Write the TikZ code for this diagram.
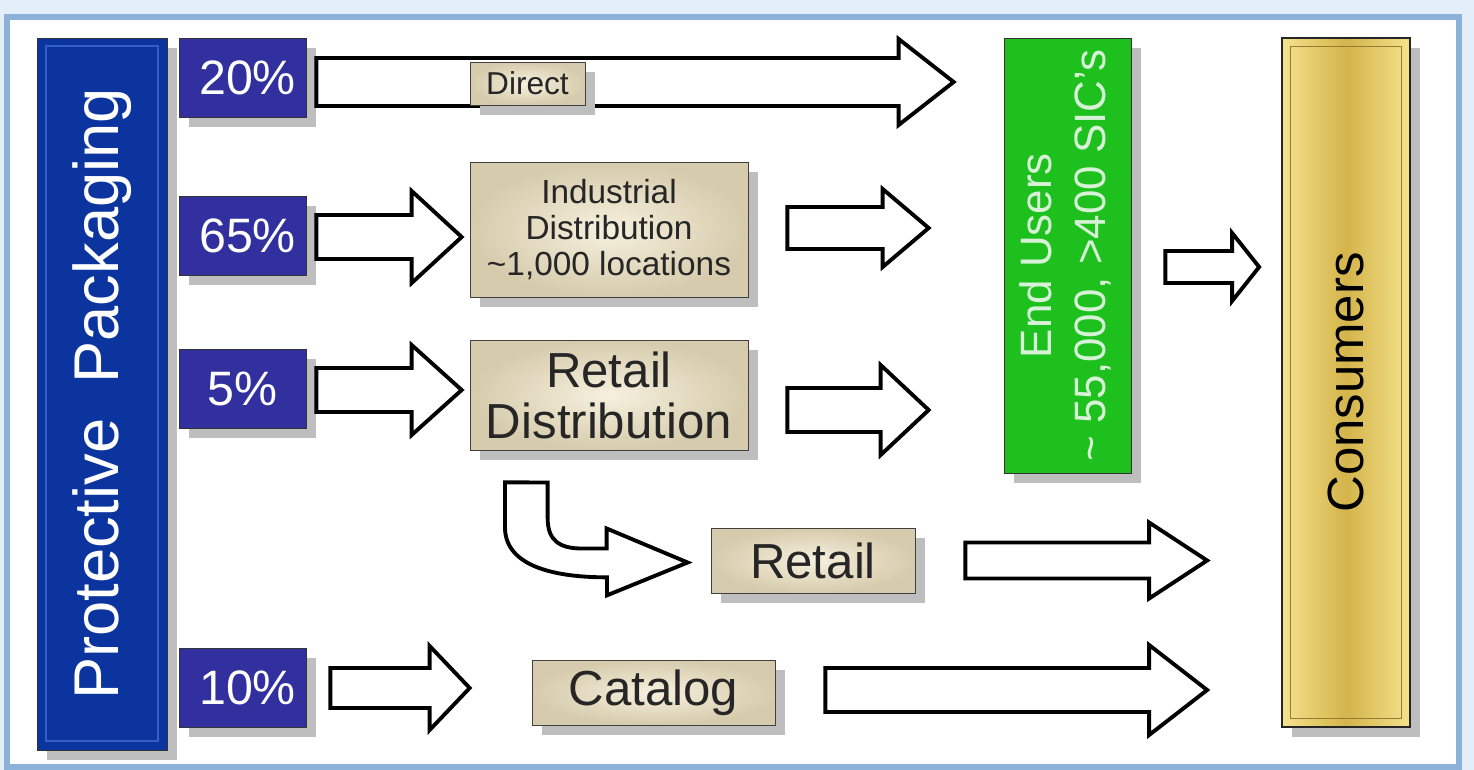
\documentclass[tikz,border=0pt]{standalone}
\usepackage{xcolor}
\usepackage{fontspec}
\setmainfont{Liberation Sans}
\usepackage{tikz}
\usetikzlibrary{
  arrows,
  positioning,
  calc,
  shadows
}

\definecolor{framebg}{RGB}{228,238,248}
\definecolor{frameblue}{RGB}{140,178,218}
\definecolor{packblue}{RGB}{12,52,158}
\definecolor{bevelblue}{RGB}{50,95,195}
\definecolor{pctblue}{RGB}{50,48,158}
\definecolor{usergreen}{RGB}{30,192,30}
\definecolor{usertext}{RGB}{215,242,215}
\definecolor{beigeL}{RGB}{246,240,222}
\definecolor{beigeD}{RGB}{214,203,172}
\definecolor{goldL}{RGB}{244,226,140}
\definecolor{goldD}{RGB}{212,180,75}
\definecolor{shadowgray}{RGB}{190,190,190}

\tikzset{
  boxshadow/.style={drop shadow={shadow xshift=5.5pt, shadow yshift=-5.5pt, fill=shadowgray, opacity=1}},
  packbox/.style={draw=black!80, fill=packblue, text=white, inner sep=0pt,
    minimum width=2.6cm, minimum height=14.24cm, font=\fontsize{36}{40}\selectfont, boxshadow},
  pctbox/.style={draw=black!80, fill=pctblue, text=white, inner sep=0pt,
    minimum width=2.54cm, minimum height=1.58cm, font=\fontsize{27.5}{30}\selectfont, boxshadow},
  tanbox/.style={draw=black!75, inner color=beigeL, outer color=beigeD, text=black!85,
    inner sep=0pt, align=center, boxshadow},
  fatarrow/.style={draw=black, line width=2.2pt, fill=white, line join=miter}
}

% from, to, half shaft, half head, head length
\newcommand{\blockarrow}[5]{%
  \draw[fatarrow] ($(#1)+(0,-#3)$) -- ($(#2)+(-#5,-#3)$) -- ($(#2)+(-#5,-#4)$) -- (#2)
    -- ($(#2)+(-#5,#4)$) -- ($(#2)+(-#5,#3)$) -- ($(#1)+(0,#3)$) -- cycle;}

\begin{document}
\begin{tikzpicture}[x=0.02cm,y=-0.02cm]
    \useasboundingbox (0,0) rectangle (1474,770);
    \fill[framebg] (0,0) rectangle (1474,770);
    \draw[frameblue, line width=0.12cm, fill=white] (7,17) rectangle (1459,767);

    % left column
    \node[packbox] (pack) at (102,394) {\rotatebox{90}{Protective\ \ Packaging}};
    \draw[bevelblue, line width=0.8pt] (46,46) rectangle (158,741);
    \node[pctbox] (p20) at (242.5,77.5) {\hspace*{0.2cm}20\%};
    \node[pctbox] (p65) at (242.5,236) {\hspace*{0.2cm}65\%};
    \node[pctbox] (p5) at (242.5,389) {5\%};
    \node[pctbox] (p10) at (242.5,687.5) {\hspace*{0.2cm}10\%};

    % channels
    \node[tanbox, minimum width=5.56cm, minimum height=2.7cm, font=\fontsize{19}{20.5}\selectfont]
        (indus) at (609,229.5) {Industrial\\Distribution\\\textasciitilde1,000 locations};
    \node[tanbox, minimum width=5.56cm, minimum height=2.2cm, font=\fontsize{28}{29}\selectfont]
        (rdist) at (609,395) {Retail\\Distribution};
    \node[tanbox, minimum width=4.08cm, minimum height=1.3cm, font=\fontsize{28}{30}\selectfont]
        (retail) at (813,560.5) {Retail};
    \node[tanbox, minimum width=4.86cm, minimum height=1.3cm, font=\fontsize{28}{30}\selectfont]
        (catalog) at (653.5,692.5) {Catalog};

    % end users and consumers
    \node[draw=black!80, fill=usergreen, text=usertext, inner sep=0pt, minimum width=2.54cm,
        minimum height=8.7cm, font=\fontsize{25}{31}\selectfont, boxshadow] (endu) at (1067.5,255.5)
        {\rotatebox{90}{\begin{tabular}{@{}c@{}}End Users\\\textasciitilde{} 55,000, >400 SIC's\end{tabular}}};
    \node[draw=black!85, line width=1pt, left color=goldL, right color=goldL, middle color=goldD,
        inner sep=0pt, minimum width=2.56cm, minimum height=13.78cm,
        font=\fontsize{29}{34}\selectfont, boxshadow] (cons) at (1346,382.5) {\rotatebox{90}{Consumers}};
    \draw[goldD!70!black, line width=0.6pt] ($(cons.south west)+(9,-9)$) rectangle ($(cons.north east)+(-9,9)$);

    % arrows
    \coordinate (d0) at ($(p20.east)+(10,4.5)$);
    \coordinate (d1) at ($(endu.west |- d0)+(-50,0)$);
    \blockarrow{d0}{d1}{24}{43}{55}
    \coordinate (i0) at ($(p65.east)+(10,1)$);
    \coordinate (i1) at ($(indus.west |- i0)+(-8,0)$);
    \blockarrow{i0}{i1}{22}{46}{50}
    \coordinate (i2) at ($(indus.east)+(39,-1.5)$);
    \coordinate (i3) at ($(endu.west |- i2)+(-75,0)$);
    \blockarrow{i2}{i3}{21}{39}{46}
    \coordinate (r0) at ($(p5.east)+(10,1)$);
    \coordinate (r1) at ($(rdist.west |- r0)+(-8,0)$);
    \blockarrow{r0}{r1}{22}{45}{50}
    \coordinate (r2) at ($(rdist.east)+(39,15)$);
    \coordinate (r3) at ($(endu.west |- r2)+(-75,0)$);
    \blockarrow{r2}{r3}{22}{45}{48}
    \coordinate (e0) at ($(endu.east)+(34,11.5)$);
    \coordinate (e1) at ($(cons.west |- e0)+(-22,0)$);
    \blockarrow{e0}{e1}{16}{34}{27}
    \coordinate (t0) at ($(retail.east)+(50,0)$);
    \coordinate (t1) at ($(cons.west |- t0)+(-74,0)$);
    \blockarrow{t0}{t1}{18}{38}{58}
    \coordinate (c0) at ($(catalog.east)+(50,-2.5)$);
    \coordinate (c1) at ($(cons.west |- c0)+(-74,0)$);
    \blockarrow{c0}{c1}{22}{45}{58}
    \coordinate (k0) at ($(p10.east)+(24,0.5)$);
    \coordinate (k1) at ($(catalog.west |- k0)+(-62,0)$);
    \blockarrow{k0}{k1}{20}{42}{40}

    % bent arrow down to retail
    \coordinate (b0) at ($(rdist.south)+(-82,32)$);
    \coordinate (b1) at ($(retail.west)+(-23,2)$);
    \draw[fatarrow] ($(b0)+(-22,0)$) -- ++(0,45) .. controls +(0,40) and +(-50,0) .. ++(102,50)
        -- ++(0,18) -- (b1) -- ++(-81,-34) -- ++(0,20) -- ++(-25,0)
        .. controls +(-22,0) and +(0,22) .. ++(-34,-30) -- ++(0,-36) -- cycle;

    \node[tanbox, minimum width=2.3cm, minimum height=0.86cm, font=\fontsize{18}{20}\selectfont]
        (direct) at (527.5,83.5) {Direct};
\end{tikzpicture}
\end{document}
